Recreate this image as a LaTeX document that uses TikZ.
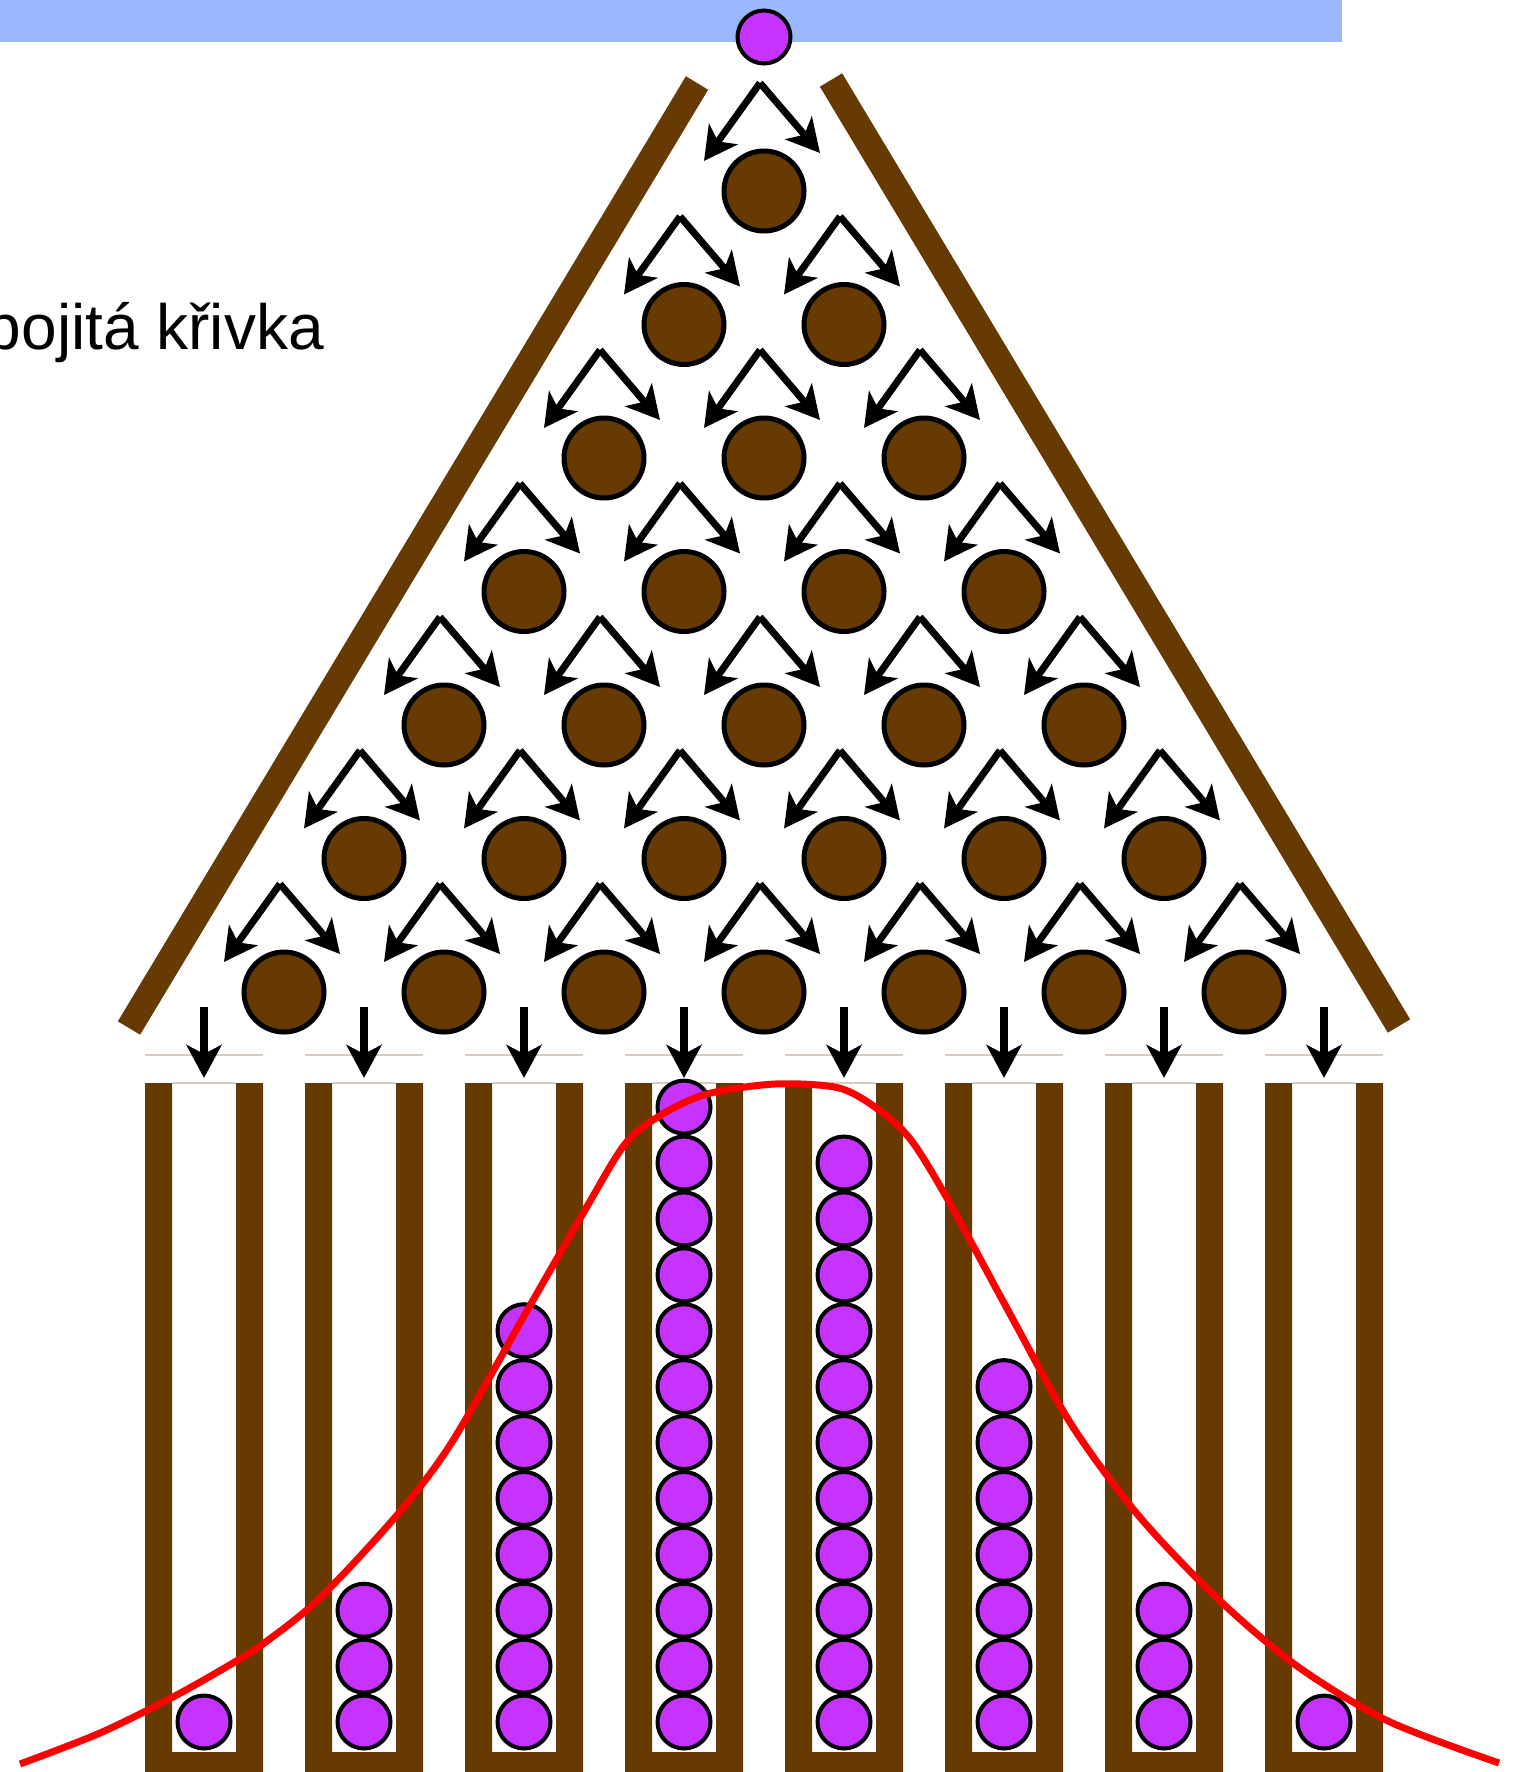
\documentclass[tikz,border=0pt]{standalone}
\usepackage{fontspec}
\setmainfont{Liberation Sans}
\usetikzlibrary{arrows.meta,calc}
\definecolor{brownc}{RGB}{102,58,0}
\definecolor{purp}{RGB}{198,51,255}
\definecolor{barblue}{RGB}{153,184,255}
\definecolor{faintc}{RGB}{216,204,190}
\begin{document}
\begin{tikzpicture}[x=1pt,y=-1pt,
  peg/.style={circle,draw=black,line width=5pt,fill=brownc,minimum size=80pt,inner sep=0pt},
  ball/.style={circle,draw=black,line width=4pt,fill=purp,minimum size=53pt,inner sep=0pt},
  arr/.style={line width=7pt,-{Stealth[length=33pt,width=35pt,inset=9pt]}},
  darr/.style={line width=7.5pt,-{Stealth[length=33pt,width=35pt,inset=9pt]}},
  wall/.style={draw=brownc,line width=26pt},
  binfill/.style={fill=brownc},
  faintline/.style={draw=faintc,line width=1.3pt},
  curve/.style={draw=red,line width=7pt,line join=round}]
\useasboundingbox (0,0) rectangle (1514,1772);
\clip (0,0) rectangle (1514,1772);
% top bar
\fill[barblue] (0,0) rectangle (1342,42);
% label
\node[anchor=base east,inner sep=0pt,font=\fontsize{64}{77}\selectfont] (lbl) at (324,349) {pojitá křivka};
% slanted walls
\coordinate (wl1) at (697,83);
\coordinate (wl2) at (129,1028);
\coordinate (wr1) at (831,80);
\coordinate (wr2) at (1399,1026);
\draw[wall] (wl1) -- (wl2);
\draw[wall] (wr1) -- (wr2);
% bins
\foreach \j in {0,...,7}{
  \pgfmathsetmacro\cx{204+160*\j}
  \fill[binfill] (\cx-59,1083) -- (\cx-59,1790) -- (\cx+59,1790) -- (\cx+59,1083)
     -- (\cx+32,1083) -- (\cx+32,1752) -- (\cx-32,1752) -- (\cx-32,1083) -- cycle;
  \draw[faintline] (\cx-59,1055) -- (\cx+59,1055);
  \draw[faintline] (\cx-32,1083) -- (\cx+32,1083);
  \coordinate (ds-\j) at (\cx,1007);
  \coordinate (de-\j) at (\cx,1078);
}
% pegs and their arrows
\foreach \r in {0,...,6}{
  \foreach \k in {0,...,\r}{
    \pgfmathsetmacro\px{764+(\k-\r/2)*160}
    \pgfmathsetmacro\py{191+133.5*\r}
    \node[peg] (p-\r-\k) at (\px,\py) {};
    \coordinate (ap-\r-\k) at ($(p-\r-\k.center)+(-4,-108)$);
    \coordinate (lt-\r-\k) at ($(p-\r-\k.center)+(-60,-30)$);
    \coordinate (rt-\r-\k) at ($(p-\r-\k.center)+(56,-38)$);
    \draw[arr] (ap-\r-\k) -- (lt-\r-\k);
    \draw[arr] (ap-\r-\k) -- (rt-\r-\k);
  }
}
% balls in bins
\foreach \n [count=\jj from 0] in {1,3,8,12,11,7,3,1}{
  \foreach \i in {1,...,\n}{
    \node[ball] (b-\jj-\i) at ({204+160*\jj},{1722-55.9*(\i-1)}) {};
  }
}
% drop arrows
\foreach \j in {0,...,7}{
  \draw[darr] (ds-\j) -- (de-\j);
}
% top ball
\node[ball] (top) at (764,37) {};
% red curve
\draw[curve] plot[smooth,tension=0.5] coordinates {
 (20,1764) (100,1733) (173,1697) (233,1663) (267,1641) (320,1598) (397,1515) (452,1442)
 (528,1309) (585,1210) (625,1144) (661,1115) (707,1094) (775,1084) (839,1088)
 (879,1110) (911,1140) (948,1200) (1010,1314) (1071,1424) (1138,1515) (1217,1598)
 (1297,1666) (1388,1721) (1499,1763)};
\end{tikzpicture}
\end{document}
